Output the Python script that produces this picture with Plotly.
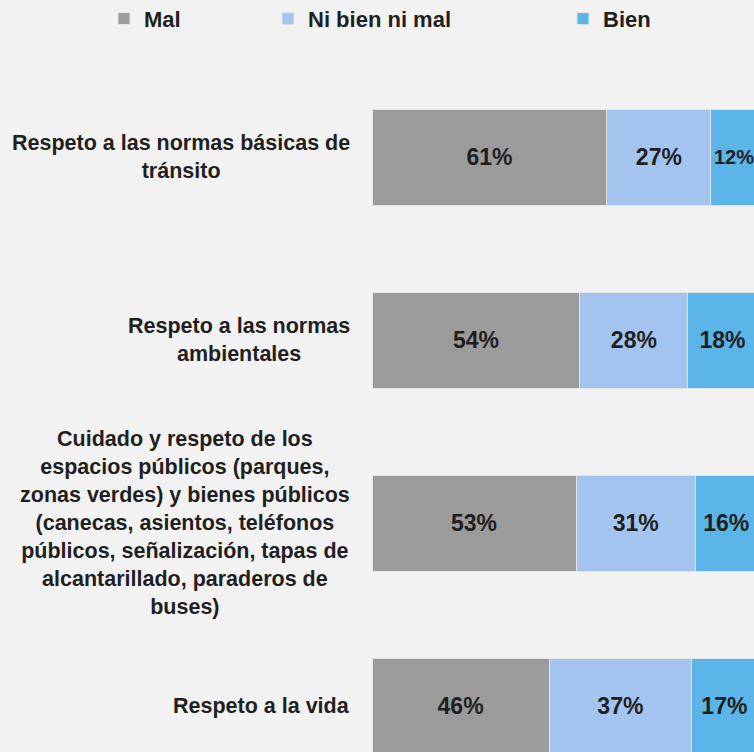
import plotly.graph_objects as go

categories = [
    "Respeto a las normas básicas de<br>tránsito",
    "Respeto a las normas<br>ambientales",
    "Cuidado y respeto de los<br>espacios públicos (parques,<br>zonas verdes) y bienes públicos<br>(canecas, asientos, teléfonos<br>públicos, señalización, tapas de<br>alcantarillado, paraderos de<br>buses)",
    "Respeto a la vida",
]
series_names = ["Mal", "Ni bien ni mal", "Bien"]
mal = [61, 54, 53, 46]
ni_bien_ni_mal = [27, 28, 31, 37]
bien = [12, 18, 16, 17]
colors = ["#9b9b9b", "#a3c4ee", "#5bb5e8"]

FONT = "Liberation Sans, Arial, sans-serif"
positions = list(range(len(categories)))

fig = go.Figure()
legend_ids = ["legend", "legend2", "legend3"]
for name, vals, col, lg in zip(series_names, [mal, ni_bien_ni_mal, bien], colors, legend_ids):
    fig.add_trace(go.Bar(
        y=positions, x=vals, name=name, orientation="h",
        marker=dict(color=col, line=dict(color="#e4e4e4", width=1)),
        width=0.525,
        text=[f"{v}%" for v in vals],
        textposition="inside", insidetextanchor="middle", textangle=0,
        textfont=dict(family=FONT, size=23, color="#1f1f1f", weight="bold"),
        legend=lg,
        hoverinfo="skip",
    ))

for i, lab in enumerate(categories):
    fig.add_annotation(
        x=0, xref="paper", xshift=-20, xanchor="right",
        y=i, yref="y", yanchor="middle",
        text=lab, align="center", showarrow=False,
        font=dict(family=FONT, size=21.5, color="#1f1f1f", weight="bold"),
    )

leg_common = dict(orientation="h", xref="container", yref="container",
                  yanchor="middle", y=0.975, bgcolor="rgba(0,0,0,0)",
                  font=dict(family=FONT, size=22, color="#1f1f1f", weight="bold"))
fig.update_layout(
    width=754, height=752,
    margin=dict(l=372, r=0, t=65, b=0),
    paper_bgcolor="#f2f2f2", plot_bgcolor="#f2f2f2",
    barmode="stack",
    showlegend=True,
    legend=dict(x=104 / 754, xanchor="left", **leg_common),
    legend2=dict(x=268 / 754, xanchor="left", **leg_common),
    legend3=dict(x=563 / 754, xanchor="left", **leg_common),
    xaxis=dict(range=[0, 99.2], visible=False, showgrid=False, zeroline=False),
    yaxis=dict(range=[3.251, -0.503], visible=False, showgrid=False, zeroline=False),
)

fig.write_html(
    "out.html",
    config={"displayModeBar": False},
    post_script="document.body.style.margin='0';document.body.style.background='#f2f2f2';",
)
